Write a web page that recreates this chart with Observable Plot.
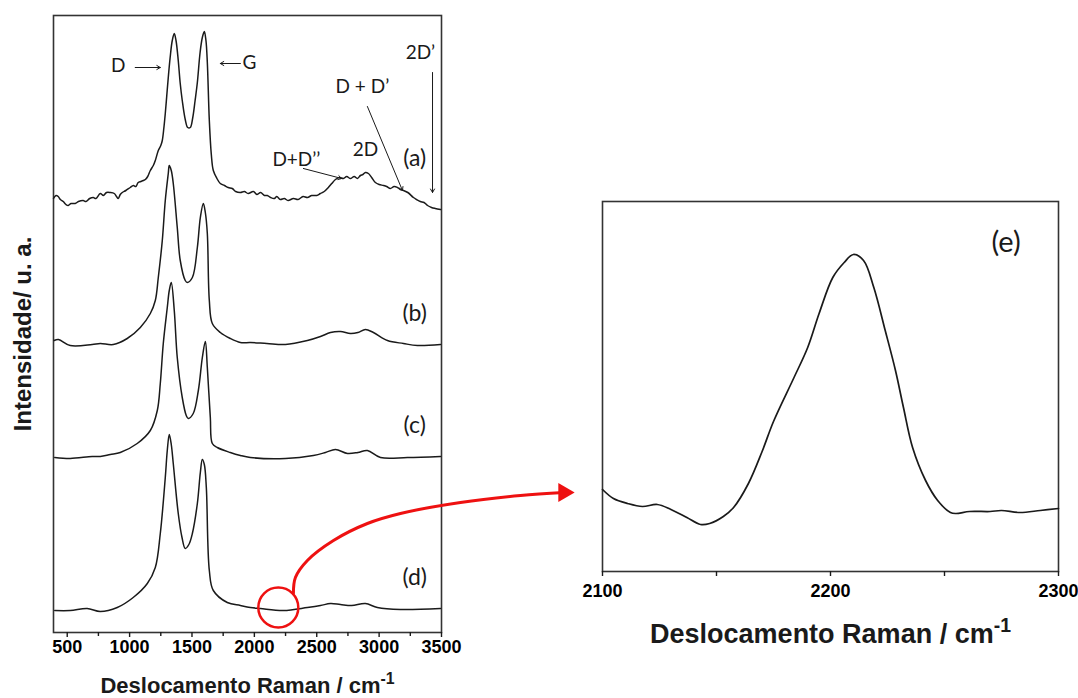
<!DOCTYPE html>
<html><head><meta charset="utf-8">
<script src="https://cdn.jsdelivr.net/npm/d3@7"></script>
<script src="https://cdn.jsdelivr.net/npm/@observablehq/plot@0.6"></script>
<style>
body{margin:0;background:#fff;}
#fig{position:relative;width:1078px;height:698px;background:#fff;}
#fig svg{position:absolute;top:0;overflow:visible;background:transparent;}
</style></head><body><div id="fig"></div>
<script>
// ---- Spectrum (a) ----
const shiftA = [390,410,428,445,468,490,508,530,564,590,628,650,680,709,730,765,790,815,845,877,895,909,925,941,970,1005,1030,1050,1069,1090,1110,1126,1145,1166,1190,1206,1230,1250,1262,1275,1286,1298,1310,1325,1342,1358,1372,1390,1405,1422,1446,1466,1486,1505,1525,1543,1565,1583,1599,1612,1623,1639,1655,1671,1700,1727,1760,1790,1823,1850,1888,1920,1950,1992,2020,2050,2080,2104,2130,2160,2180,2208,2240,2270,2313,2350,2390,2425,2460,2500,2529,2560,2593,2620,2650,2680,2714,2740,2770,2800,2826,2850,2870,2890,2914,2940,2970,3000,3035,3060,3090,3120,3147,3170,3195,3230,3275,3300,3330,3360,3388,3420,3450,3492];
const intA = [434,437,436,433,431,428,427,429,429,431,432,431,434,435,434,439,437,440,440,439,436,434,438,440,442,445,447,446,450,451,452,453,456,462,467,472,482,487,492,505,519,537,555,575,592,599,592,572,550,532,513,505,505,514,532,550,580,595,601,592,570,512,478,462,454,449,447,445,444,441,440,441,439,441,438,440,437,437,435,434,436,433,434,432,434,433,436,435,437,437,439,441,445,449,453,455,454,456,454,456,454,457,458,460,459,455,450,448,447,446,444,446,445,443,442,440,435,433,431,430,427,425,424,423];
// ---- Spectrum (b) ----
const shiftB = [395,430,524,700,765,869,981,1086,1166,1206,1230,1262,1286,1310,1318,1334,1350,1382,1406,1446,1462,1503,1543,1567,1591,1607,1623,1639,1663,1727,1807,1888,1968,2100,2249,2425,2530,2610,2690,2770,2830,2890,2954,3067,3195,3307,3492];
const intB = [292,293,287,288,289,288,294,305,319,332,355,392,432,459,467,462,449,405,372,352,350,355,385,415,429,420,399,332,309,300,294,290,290,289,288,292,296,300,301,299,300,303,300,292,289,287,288];
// ---- Spectrum (c) ----
const shiftC = [400,524,700,765,845,925,1061,1166,1222,1246,1270,1302,1318,1334,1358,1382,1422,1454,1470,1510,1551,1583,1607,1623,1647,1663,1703,1807,1888,1968,2249,2473,2570,2650,2746,2830,2906,3011,3227,3492];
const intC = [175,174,176,176,178,180,189,202,222,249,289,325,342,350,322,275,235,217,214,219,242,275,291,265,215,189,185,180,177,175,174,177,180,183,179,180,182,175,175,176];
// ---- Spectrum (d) ----
const shiftD = [400,524,660,765,901,1029,1142,1206,1246,1286,1302,1318,1334,1350,1390,1420,1446,1475,1503,1543,1567,1583,1599,1615,1639,1671,1783,1888,1968,2048,2233,2425,2530,2610,2690,2780,2890,2986,3171,3492];
const intD = [22,22,24,21,25,35,49,65,99,155,182,198,188,169,119,95,84,88,99,129,160,173,168,145,62,42,30,27,25,24,22,25,27,29,28,27,29,25,23,24];
// ---- Inset (e): 2100-2300 cm-1 region of (d) ----
const shiftE = [2100,2104.8,2111,2117.5,2124,2130,2137,2143,2147,2153,2157.5,2164,2170,2175,2184,2190,2195,2201,2206,2210,2214.5,2219,2224,2228.5,2232,2236,2241.7,2247,2252.6,2255,2261,2270,2275,2283,2292,2300];
const intE = [82,73,68,65,67,62,54,47,48,55,64,88,120,150,194,224,258,294,309,317,311,284,241,201,164,124,91,71,59,58,60,60,61,59,61,63];

const seriesNames = ["a","b","c","d"];
const seriesLabels = ["(a)","(b)","(c)","(d)"];
const labelY = [474,319,207,55];
const mainTicks = [500,1000,1500,2000,2500,3000,3500];
const minorTicks = [750,1250,1750,2250,2750,3250];
const insetTicks = [2100,2200,2300];
const insetMinor = [2150,2250];
const xTitle = "Deslocamento Raman / cm-1";
const yTitle = "Intensidade/ u. a.";

// band annotations (left panel)
const bandText = [
  {t:"D", x:909, y:567},
  {t:"G", x:1960, y:570},
  {t:"2D\u2019", x:3331, y:580},
  {t:"D + D\u2019", x:2866, y:546},
  {t:"D+D\u2019\u2019", x:2337, y:473},
  {t:"2D", x:2890, y:483}
];
const bandArrows = [
  {x1:1045, y1:565, x2:1246, y2:565},
  {x1:1888, y1:569, x2:1727, y2:569},
  {x1:3428, y1:560, x2:3428, y2:440},
  {x1:2906, y1:526, x2:3187, y2:442},
  {x1:2393, y1:464, x2:2700, y2:454}
];
// zoom callout (red) from (d) at 2200 cm-1 toward the inset
const callout = [[2313,39],[2329,55],[2425,72],[2634,92],[2906,109],[3171,119],[3652,130],[4133,137],[4480,140]];

const rows = [];
[[shiftA,intA],[shiftB,intB],[shiftC,intC],[shiftD,intD]].forEach(([s,v],k) => {
  s.forEach((x,i) => rows.push({series: seriesNames[k], shift: x, intensity: v[i]}));
});
const insetRows = shiftE.map((x,i) => ({shift: x, intensity: intE[i]}));

const boldFont = "Liberation Sans, Arial, sans-serif";
const annFont = "Lato, Open Sans, sans-serif";
const ink = "#1a1a1a";

const left = Plot.plot({
  width: 600, height: 698,
  marginLeft: 53, marginRight: 159, marginTop: 15, marginBottom: 66,
  style: {background: "transparent", overflow: "visible"},
  x: {domain: [390, 3500]},
  y: {domain: [0, 617], axis: null},
  marks: [
    Plot.frame({stroke: "#333", strokeWidth: 1.6}),
    Plot.axisX(mainTicks, {tickSize: 5, tickPadding: 3, fontSize: 18, fontWeight: "bold", fontFamily: boldFont, stroke: ink, strokeWidth: 1.4, label: null, tickFormat: d => String(d)}),
    Plot.axisX(minorTicks, {tickSize: 4, stroke: ink, strokeWidth: 1.4, label: null, tickFormat: () => ""}),
    Plot.line(rows, {x: "shift", y: "intensity", z: "series", curve: "catmull-rom", stroke: ink, strokeWidth: 1.5}),
    Plot.text(seriesLabels, {x: () => 3285, y: (d,i) => labelY[i], text: d => d, fontSize: 23, fontFamily: annFont, fill: ink}),
    Plot.text(bandText, {x: "x", y: "y", text: "t", fontSize: 19, fontFamily: annFont, fill: ink}),
    Plot.arrow(bandArrows, {x1: "x1", y1: "y1", x2: "x2", y2: "y2", stroke: ink, strokeWidth: 1, headLength: 6}),
    Plot.dot([[2192, 25]], {x: d => d[0], y: d => d[1], r: 20, stroke: "#ee1111", strokeWidth: 2.5, fill: "none"}),
    Plot.line(callout, {x: d => d[0], y: d => d[1], curve: "catmull-rom", stroke: "#ee1111", strokeWidth: 3}),
    Plot.dot([callout[callout.length-1]], {x: d => d[0], y: d => d[1], symbol: "triangle", rotate: 90, r: 7, fill: "#ee1111", stroke: "none"}),
    Plot.text([yTitle], {text: d => d, frameAnchor: "left", textAnchor: "middle", dx: -30, dy: 10, rotate: -90, fontSize: 24, fontWeight: "bold", fontFamily: boldFont, fill: ink}),
    Plot.text([xTitle], {text: d => d, frameAnchor: "bottom", dy: 60, fontSize: 22, fontWeight: "bold", fontFamily: boldFont, fill: ink})
  ]
});

const right = Plot.plot({
  width: 518, height: 698,
  marginLeft: 42, marginRight: 20, marginTop: 201, marginBottom: 127,
  style: {background: "transparent", overflow: "visible"},
  x: {domain: [2100, 2300]},
  y: {domain: [0, 370], axis: null},
  marks: [
    Plot.frame({stroke: "#333", strokeWidth: 1.6}),
    Plot.axisX(insetTicks, {tickSize: 5, tickPadding: 8, fontSize: 18, fontWeight: "bold", fontFamily: boldFont, stroke: ink, strokeWidth: 1.4, label: null, tickFormat: d => String(d)}),
    Plot.axisX(insetMinor, {tickSize: 5, stroke: ink, strokeWidth: 1.4, label: null, tickFormat: () => ""}),
    Plot.line(insetRows, {x: "shift", y: "intensity", curve: "catmull-rom", stroke: ink, strokeWidth: 1.7}),
    Plot.text(["(e)"], {x: () => 2277, y: () => 329, text: d => d, fontSize: 29, fontFamily: annFont, fill: ink}),
    Plot.text([xTitle], {text: d => d, frameAnchor: "bottom", dy: 71, fontSize: 27, fontWeight: "bold", fontFamily: boldFont, fill: ink})
  ]
});
right.style.left = "560px";
left.style.left = "0px";

function superscript(svg) {
  d3.select(svg).selectAll("text").each(function() {
    if (this.textContent === xTitle) {
      const t = d3.select(this);
      t.text(null);
      t.append("tspan").text("Deslocamento Raman / cm");
      t.append("tspan").attr("dy", "-0.55em").attr("font-size", "0.72em").text("-1");
    }
  });
}
superscript(left); superscript(right);

const fig = document.getElementById("fig");
fig.appendChild(right);
fig.appendChild(left);
</script></body></html>
